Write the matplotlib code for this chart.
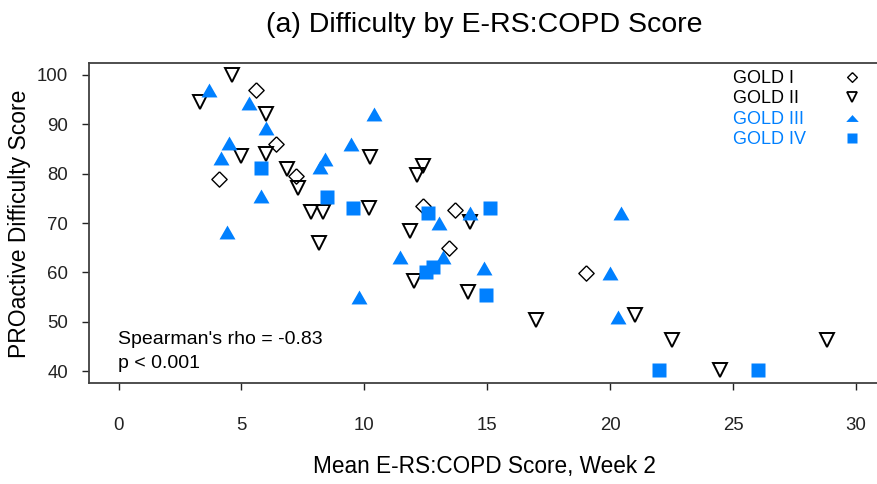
import matplotlib
matplotlib.use('Agg')
import matplotlib.pyplot as plt
from matplotlib.lines import Line2D

plt.rcParams['font.family'] = ['Liberation Sans', 'DejaVu Sans']

# values
gold1_x = [4.1, 5.6, 6.4, 7.2, 12.4, 13.7, 13.45, 19.0]
gold1_y = [79, 97, 86, 79.5, 73.4, 72.7, 65, 59.8]

gold2_x = [4.6, 3.3, 6.0, 5.0, 6.0, 6.85, 7.3, 7.85, 8.3, 8.15, 10.25, 10.2,
           12.4, 12.15, 11.85, 14.3, 12.0, 14.2, 17.0, 21.0, 22.5, 24.45, 28.8]
gold2_y = [100, 94.6, 92, 83.5, 84, 81, 77, 72.3, 72.3, 66, 83.3, 73,
           81.5, 79.7, 68.3, 70.3, 58.3, 56, 50.3, 51.4, 46.3, 40.3, 46.3]

gold3_x = [3.7, 5.3, 6.0, 4.5, 4.15, 5.8, 4.4, 8.4, 8.2, 9.45, 10.4, 9.8,
           13.05, 14.3, 11.45, 13.2, 14.85, 20.45, 20.0, 20.3]
gold3_y = [97, 94.3, 89.2, 86.2, 83.1, 75.4, 68.1, 83, 81.3, 86, 92.1, 55,
           70, 72, 63.2, 63.2, 60.8, 72, 59.9, 51]

gold4_x = [5.8, 8.5, 9.55, 12.6, 15.1, 12.5, 12.8, 14.95, 22.0, 26.0]
gold4_y = [81.2, 75.2, 73, 72.1, 73, 60.1, 61.1, 55.4, 40.2, 40.2]

x_ticks = [0, 5, 10, 15, 20, 25, 30]
y_ticks = [40, 50, 60, 70, 80, 90, 100]
labels = ['GOLD I', 'GOLD II', 'GOLD III', 'GOLD IV']

blue = '#0080ff'
diamond = [(0, 1), (1, 0), (0, -1), (-1, 0), (0, 1)]
tri_up = [(-1, -0.87), (1, -0.87), (0, 0.87), (-1, -0.87)]
tri_flat = [(-1, -0.55), (1, -0.55), (0, 0.55), (-1, -0.55)]

W, H = 877, 484
fig = plt.figure(figsize=(W / 100, H / 100), dpi=100)
ax = fig.add_axes([89 / W, 1 - 383 / H, (885.5 - 89) / W, 320 / H])

ax.plot(gold1_x, gold1_y, ls='none', marker=diamond, ms=11, mfc='none', mec='black', mew=1.0)
ax.plot(gold2_x, gold2_y, ls='none', marker='v', ms=10, mfc='none', mec='black', mew=1.4)
ax.plot(gold3_x, gold3_y, ls='none', marker=tri_up, ms=11.5, mfc=blue, mec='none')
ax.plot(gold4_x, gold4_y, ls='none', marker='s', ms=10, mfc=blue, mec='none')

ax.set_xlim(-1.2, 31.2)
ax.set_ylim(37.6, 102.4)
ax.set_xticks(x_ticks)
ax.set_yticks(y_ticks)
ax.tick_params(axis='x', length=5, width=1, pad=19.5, labelsize=13.4, colors='#222222')
ax.tick_params(axis='y', length=5, width=1, pad=10, labelsize=13.4, colors='#222222')
ax.spines['right'].set_visible(False)
for s in ['left', 'top', 'bottom']:
    ax.spines[s].set_color('#404040')
    ax.spines[s].set_linewidth(1.3)

# legend: one for the texts (left aligned), one for the symbols column
handles = [
    Line2D([], [], ls='none', marker=diamond, ms=7, mfc='none', mec='black', mew=1.0),
    Line2D([], [], ls='none', marker='v', ms=7, mfc='none', mec='black', mew=1.3),
    Line2D([], [], ls='none', marker=tri_flat, ms=9, mfc=blue, mec='none'),
    Line2D([], [], ls='none', marker='s', ms=6.5, mfc=blue, mec='none'),
]
blank = [Line2D([], [], ls='none') for _ in labels]
common = dict(loc='upper left', bbox_transform=fig.transFigure, frameon=False,
              fontsize=13, labelspacing=0.18, borderpad=0, borderaxespad=0)
leg_txt = ax.legend(blank, labels, bbox_to_anchor=(733 / W, 1 - 70 / H),
                    handlelength=0, handletextpad=0,
                    labelcolor=['black', 'black', blue, blue], **common)
ax.add_artist(leg_txt)
ax.legend(handles, ['', '', '', ''], bbox_to_anchor=(843 / W, 1 - 70.5 / H),
          handlelength=1.0, handletextpad=0, **common)

fig.text(118 / W, 1 - 340 / H, "Spearman's rho = -0.83", fontsize=14, va='center')
fig.text(118 / W, 1 - 363 / H, "p < 0.001", fontsize=14, va='center')

fig.text(484 / W, 1 - 25 / H, '(a) Difficulty by E-RS:COPD Score', ha='center', va='center', fontsize=20.5)
fig.text(484 / W, 1 - 467 / H, 'Mean E-RS:COPD Score, Week 2', ha='center', va='center', fontsize=16.3)
fig.text(20 / W, 1 - 224 / H, 'PROactive Difficulty Score', ha='center', va='center',
         rotation=90, fontsize=16.5)

fig.savefig('out.png', dpi=100)
